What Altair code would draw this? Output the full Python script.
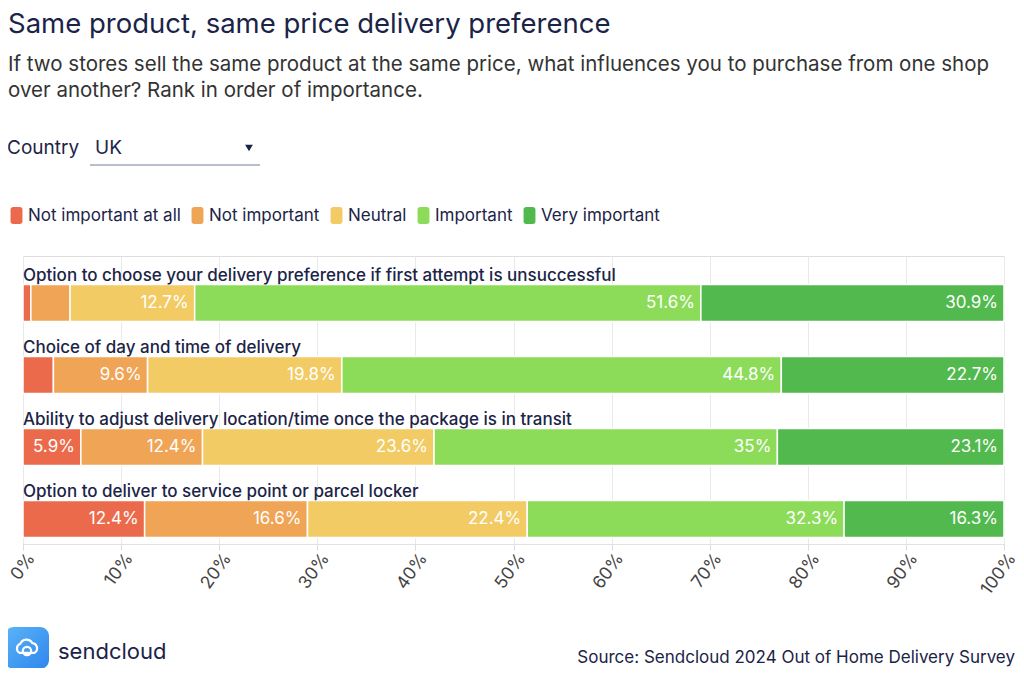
import altair as alt
import pandas as pd

questions = [
    "Option to choose your delivery preference if first attempt is unsuccessful",
    "Choice of day and time of delivery",
    "Ability to adjust delivery location/time once the package is in transit",
    "Option to deliver to service point or parcel locker",
]
levels = ["Not important at all", "Not important", "Neutral", "Important", "Very important"]
not_at_all = [0.8, 3.1, 5.9, 12.4]
not_important = [4.0, 9.6, 12.4, 16.6]
neutral = [12.7, 19.8, 23.6, 22.4]
important = [51.6, 44.8, 35.0, 32.3]
very_important = [30.9, 22.7, 23.1, 16.3]
colors = ["#EC6A4C", "#F0A456", "#F2CB64", "#8CDC5A", "#52B94E"]
x_ticks = [0, 10, 20, 30, 40, 50, 60, 70, 80, 90, 100]

series = [not_at_all, not_important, neutral, important, very_important]
rows = []
for qi, q in enumerate(questions):
    for li, lvl in enumerate(levels):
        rows.append({"question": q, "level": lvl, "order": li, "value": series[li][qi]})
df = pd.DataFrame(rows)
qdf = pd.DataFrame({"question": questions})
dummy = pd.DataFrame({"a": [0]})

NAVY = "#1b2447"
FONT = "Inter"

yenc = alt.Y("question:N", sort=questions, axis=None,
             scale=alt.Scale(paddingInner=0, paddingOuter=0))

base = alt.Chart(df).transform_stack(
    stack="value", groupby=["question"], as_=["x0", "x1"],
    sort=[alt.SortField("order", order="ascending")],
)

bars = base.mark_bar(size=37, yOffset=11, stroke="white", strokeWidth=1.5).encode(
    x=alt.X("x0:Q", scale=alt.Scale(domain=[0, 100], nice=False),
            axis=alt.Axis(values=x_ticks, labelExpr="datum.value + '%'", title=None,
                          grid=True, gridColor="#e9e9e9", domainColor="#e2e2e2",
                          tickColor="#dddddd", tickSize=6, labelAngle=306,
                          labelFont=FONT, labelFontSize=17.5, labelColor="#444444",
                          labelPadding=5, labelOffset=8)),
    x2="x1:Q",
    y=yenc,
    color=alt.Color("level:N", sort=levels,
                    scale=alt.Scale(domain=levels, range=colors),
                    legend=alt.Legend(
                        title=None, orient="none", direction="horizontal",
                        legendX=-15, legendY=-49, columns=5,
                        symbolType="M-0.4,-1H0.4A0.3,0.3,0,0,1,0.7,-0.7V0.7A0.3,0.3,0,0,1,0.4,1H-0.4A0.3,0.3,0,0,1,-0.7,0.7V-0.7A0.3,0.3,0,0,1,-0.4,-1Z",
                        symbolSize=289, symbolStrokeWidth=0, symbolOpacity=1,
                        labelFont=FONT, labelFontSize=17, labelColor=NAVY,
                        labelOffset=3, columnPadding=8, labelLimit=400)),
)

value_labels = base.transform_filter("datum.value >= 5").transform_calculate(
    label="datum.value + '%'"
).mark_text(align="right", baseline="middle", dx=-6, yOffset=11, color="white",
            fontSize=17, font=FONT).encode(
    x="x1:Q", y=yenc, text="label:N"
)

cat_labels = alt.Chart(qdf).mark_text(
    align="left", baseline="middle", yOffset=-16, fontSize=17, font=FONT,
    fontWeight=500, color=NAVY
).encode(x=alt.value(0), y=yenc, text="question:N")

country = alt.Chart(dummy).mark_text(align="left", baseline="middle", fontSize=19,
                                     font=FONT, color=NAVY).encode(
    x=alt.value(-16), y=alt.value(-108), text=alt.value("Country"))
uk = alt.Chart(dummy).mark_text(align="left", baseline="middle", fontSize=19,
                                font=FONT, color=NAVY).encode(
    x=alt.value(72), y=alt.value(-108), text=alt.value("UK"))
arrow = alt.Chart(dummy).mark_point(shape="triangle-down", filled=True, size=60,
                                    color=NAVY, opacity=1).encode(
    x=alt.value(226), y=alt.value(-108))
underline = alt.Chart(dummy).mark_rule(color="#b8bfcc", strokeWidth=2).encode(
    x=alt.value(67), x2=alt.value(237), y=alt.value(-91))

logo_box = alt.Chart(dummy).mark_rect(
    cornerRadius=9,
    color=alt.LinearGradient(gradient="linear", x1=0, y1=0, x2=1, y2=1,
                             stops=[alt.GradientStop(color="#5AB4F7", offset=0),
                                    alt.GradientStop(color="#2F86EE", offset=1)]),
).encode(x=alt.value(-18), x2=alt.value(26), y=alt.value(371), y2=alt.value(413))
logo_cloud = alt.Chart(dummy).mark_point(
    shape="M-0.55,0.45A0.38,0.38,0,0,1,-0.5,-0.25A0.5,0.5,0,0,1,0.4,-0.3A0.4,0.4,0,0,1,0.55,0.45Z",
    filled=False, stroke="white", strokeWidth=2.2, size=700, opacity=1,
).encode(x=alt.value(4), y=alt.value(391))
logo_ring = alt.Chart(dummy).mark_point(shape="circle", filled=False, stroke="white",
                                        strokeWidth=2.2, size=70, opacity=1).encode(
    x=alt.value(4), y=alt.value(395))
logo_text = alt.Chart(dummy).mark_text(align="left", baseline="middle", fontSize=22,
                                       font=FONT, color=NAVY).encode(
    x=alt.value(35), y=alt.value(396), text=alt.value("sendcloud"))
source = alt.Chart(dummy).mark_text(align="right", baseline="middle", fontSize=17,
                                    font=FONT, color=NAVY).encode(
    x=alt.value(992), y=alt.value(402),
    text=alt.value("Source: Sendcloud 2024 Out of Home Delivery Survey"))

chart = alt.layer(
    bars, value_labels, cat_labels, country, uk, arrow, underline,
    logo_box, logo_cloud, logo_ring, logo_text, source
).properties(
    width=981, height=288,
    autosize=alt.AutoSizeParams(type="none"),
    padding={"left": 15, "top": 248, "right": 12, "bottom": 124},
    title=alt.TitleParams(
        text="Same product, same price delivery preference",
        subtitle=["If two stores sell the same product at the same price, what influences you to purchase from one shop",
                  "over another? Rank in order of importance."],
        anchor="start", dx=-15, offset=38, frame="group",
        font=FONT, fontSize=27.5, fontWeight="normal", color=NAVY,
        subtitleFont=FONT, subtitleFontSize=20.5, subtitleColor="#333333",
        subtitleLineHeight=26, subtitlePadding=16,
    ),
).configure_view(stroke=None).configure(background="white")

chart.save("out.html", embed_options={"renderer": "svg", "actions": False})
